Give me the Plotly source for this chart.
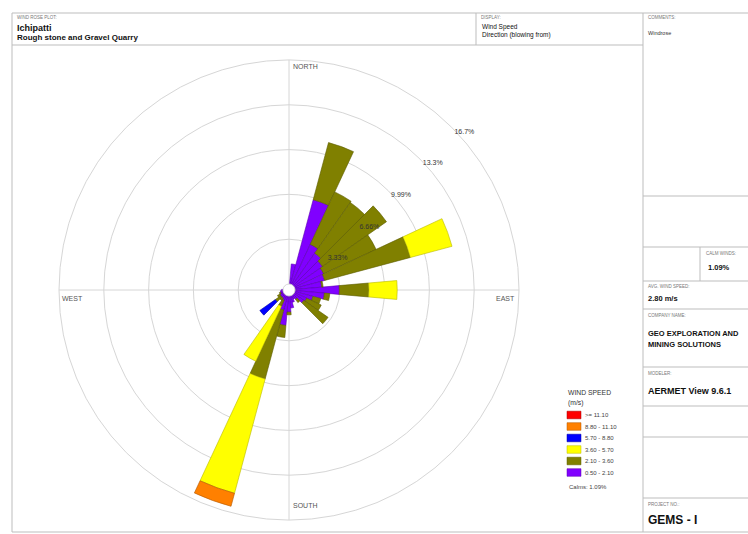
import plotly.graph_objects as go

W, H = 748, 534

# ---------------- data (percent frequency, 36 sectors, blowing from) ----------------
directions = [10, 20, 30, 40, 50, 60, 70, 80, 90, 100, 110, 120,
              130, 140, 150, 160, 170, 180, 190, 200, 210, 220, 230, 240,
              250, 260, 270, 280, 290, 300, 310, 320, 330, 340, 350, 360]

s_050_210 = [1.5, 6.5, 3.3, 2.9, 2.6, 2.4, 2.3, 2.0, 3.3, 2.2, 1.4, 1.0,
             0.9, 0.4, 0.3, 0.5, 0.9, 1.2, 2.2, 1.1, 0.4, 0.3, 0.3, 0.3,
             0.2, 0.2, 0.1, 0, 0, 0, 0, 0, 0, 0, 0, 0]
s_210_360 = [0, 4.4, 4.3, 4.6, 5.8, 4.3, 6.6, 0.1, 2.2, 0.4, 0.6, 1.2,
             2.2, 0.3, 0, 0, 0, 0.2, 0.9, 5.3, 0.5, 0.2, 0.5, 0.2,
             0.1, 0, 0, 0, 0, 0, 0, 0, 0, 0, 0, 0]
s_360_570 = [0, 0, 0, 0, 0, 0, 3.2, 0, 2.1, 0, 0, 0,
             0, 0, 0, 0, 0, 0, 0, 8.8, 4.5, 0, 0, 0,
             0, 0, 0, 0, 0, 0, 0, 0, 0, 0, 0, 0]
s_570_880 = [0, 0, 0, 0, 0, 0, 0, 0, 0, 0, 0, 0,
             0, 0, 0, 0, 0, 0, 0, 0, 0, 0, 1.4, 0,
             0, 0, 0, 0, 0, 0, 0, 0, 0, 0, 0, 0]
s_880_1110 = [0, 0, 0, 0, 0, 0, 0, 0, 0, 0, 0, 0,
              0, 0, 0, 0, 0, 0, 0, 1.0, 0, 0, 0, 0,
              0, 0, 0, 0, 0, 0, 0, 0, 0, 0, 0, 0]
s_ge_1110 = [0] * 36

series_names = ["0.50 - 2.10", "2.10 - 3.60", "3.60 - 5.70",
                "5.70 - 8.80", "8.80 - 11.10", ">= 11.10"]
series_values = [s_050_210, s_210_360, s_360_570, s_570_880, s_880_1110, s_ge_1110]
series_colors = ["#8000FF", "#808000", "#FFFF00", "#0000FF", "#FF8000", "#FF0000"]
series_edges = ["#5a00b0", "#5c5c00", "#b8b800", "#0000a0", "#b05800", "#a00000"]

ring_vals = [3.33, 6.66, 9.99, 13.32, 16.65]
ring_text = ["3.33%", "6.66%", "9.99%", "13.3%", "16.7%"]
compass_labels = ["NORTH", "EAST", "SOUTH", "WEST"]
calm_pct = 1.09

FONT = "Liberation Sans, Arial, sans-serif"

fig = go.Figure()
for name, vals, col, edge in zip(series_names, series_values, series_colors, series_edges):
    fig.add_trace(go.Barpolar(
        r=vals, theta=directions, width=[10] * len(directions), name=name,
        marker=dict(color=col, line=dict(color=edge, width=0.6)),
        hoverinfo="skip", showlegend=False,
    ))


def px(x):
    return x / W


def py(y):
    return 1 - y / H


cx0, cx1 = 59, 519
cy0, cy1 = 60, 520

fig.update_layout(
    width=W, height=H,
    margin=dict(l=0, r=0, t=0, b=0),
    paper_bgcolor="white", plot_bgcolor="white",
    font=dict(family=FONT, size=7, color="#333"),
    polar=dict(
        domain=dict(x=[px(cx0), px(cx1)], y=[py(cy1), py(cy0)]),
        bgcolor="white",
        hole=0.026,
        barmode="stack",
        angularaxis=dict(rotation=90, direction="clockwise",
                         tickvals=[0, 90, 180, 270], ticktext=compass_labels,
                         showticklabels=False, ticks="",
                         gridcolor="#d6d6d6", gridwidth=1,
                         linecolor="#d6d6d6", linewidth=1, showline=True),
        radialaxis=dict(range=[0, 16.65], tickvals=ring_vals, ticktext=ring_text,
                        angle=45, tickangle=45, showline=False, ticks="",
                        gridcolor="#d6d6d6", gridwidth=1,
                        tickfont=dict(size=7, color="#333")),
    ),
    showlegend=False,
)

# compass annotations
compass_pos = {"NORTH": (305, 67), "SOUTH": (305, 505), "WEST": (72, 298), "EAST": (505, 298)}
for lab in compass_labels:
    x, y = compass_pos[lab]
    fig.add_annotation(x=px(x), y=py(y), xref="paper", yref="paper", text=lab,
                       showarrow=False, font=dict(size=7, color="#555"),
                       xanchor="center", yanchor="middle")

# frame lines
LC = "#bdbdbd"
lines = [
    (12, 13, 748, 13), (12, 13, 12, 532), (12, 532, 748, 532),
    (12, 45, 643, 45), (476, 13, 476, 45), (643, 13, 643, 532),
    (643, 196, 748, 196), (643, 247, 748, 247), (700, 247, 700, 281),
    (643, 281, 748, 281), (643, 309, 748, 309), (643, 367, 748, 367),
    (643, 406, 748, 406), (643, 437, 748, 437), (643, 498, 748, 498),
]
for x0, y0, x1, y1 in lines:
    fig.add_shape(type="line", xref="paper", yref="paper",
                  x0=px(x0), y0=py(y0), x1=px(x1), y1=py(y1),
                  line=dict(color=LC, width=1))


def txt(x, y, s, size, bold=False, color="#111", anchor="top"):
    fig.add_annotation(x=px(x), y=py(y), xref="paper", yref="paper",
                       text=f"<b>{s}</b>" if bold else s, showarrow=False,
                       xanchor="left", yanchor=anchor, borderpad=0,
                       font=dict(size=size, color=color, family=FONT))


# legend (drawn manually to match the compact original layout)
txt(567, 388, "WIND SPEED", 6.8, color="#333")
txt(567, 398, "(m/s)", 6.8, color="#333")
legend_rows = [415, 426.5, 438, 449.5, 461, 472.5]
for (name, col, edge), yc in zip(list(zip(series_names, series_colors, series_edges))[::-1], legend_rows):
    fig.add_shape(type="rect", xref="paper", yref="paper",
                  x0=px(567), x1=px(581), y0=py(yc - 3.8), y1=py(yc + 3.8),
                  fillcolor=col, line=dict(color=edge, width=0.5))
    txt(584, yc, name, 6, color="#444", anchor="middle")
txt(568, 487, f"Calms: {calm_pct:.2f}%", 6, color="#444", anchor="middle")

SMALL = dict(size=4.5, color="#777")
txt(16, 14, "WIND ROSE PLOT:", **SMALL)
txt(16, 22, "Ichipatti", 9, bold=True)
txt(16, 32, "Rough stone and Gravel Quarry", 8, bold=True)
txt(480, 14, "DISPLAY:", **SMALL)
txt(481, 22, "Wind Speed", 6.5)
txt(481, 30, "Direction (blowing from)", 6.5)
txt(647, 14, "COMMENTS:", **SMALL)
txt(647, 29, "Windrose", 5.5, color="#333")
txt(705, 250, "CALM WINDS:", **SMALL)
txt(707, 262, f"{calm_pct:.2f}%", 7.5, bold=True)
txt(647, 283, "AVG. WIND SPEED:", **SMALL)
txt(647, 293, "2.80 m/s", 7.5, bold=True)
txt(647, 312, "COMPANY NAME:", **SMALL)
txt(647, 328, "GEO EXPLORATION AND", 7.5, bold=True)
txt(647, 339, "MINING SOLUTIONS", 7.5, bold=True)
txt(647, 370, "MODELER:", **SMALL)
txt(647, 385, "AERMET View 9.6.1", 9, bold=True)
txt(647, 501, "PROJECT NO.:", **SMALL)
txt(647, 512, "GEMS - I", 12, bold=True)

fig.write_html("out.html")
